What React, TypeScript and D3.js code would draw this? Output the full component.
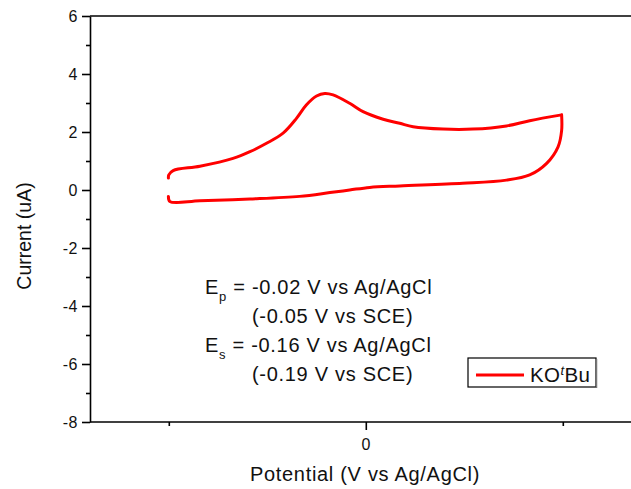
import React, { useEffect, useRef } from 'react';
import * as d3 from 'd3';

const width = 631,
  height = 489;

// cyclic voltammogram (V, uA)
// forward sweep, left to right
const fwdPotential = [-0.501, -0.5, -0.489, -0.421, -0.337, -0.294, -0.252, -0.21, -0.176, -0.151, -0.125, -0.104, -0.083, -0.041, -0.007, 0.044, 0.086, 0.12, 0.196, 0.272, 0.357, 0.416, 0.497];
const fwdCurrent = [0.41, 0.52, 0.67, 0.82, 1.09, 1.32, 1.61, 1.96, 2.47, 2.93, 3.24, 3.33, 3.28, 2.99, 2.7, 2.44, 2.3, 2.18, 2.1, 2.1, 2.21, 2.39, 2.59];
// reverse sweep, right to left
const revPotential = [0.497, 0.497, 0.488, 0.459, 0.416, 0.357, 0.246, 0.086, 0.01, -0.041, -0.091, -0.168, -0.294, -0.421, -0.497, -0.501];
const revCurrent = [2.59, 2.05, 1.49, 0.92, 0.52, 0.34, 0.23, 0.14, 0.09, 0.0, -0.09, -0.22, -0.31, -0.37, -0.4, -0.22];

const yMajor = [-8, -6, -4, -2, 0, 2, 4, 6];
const yMinor = [-7, -5, -3, -1, 1, 3, 5];
const xMajor = [0];
const xMinor = [-0.5, 0.5];

const seriesName = 'KO';
const font = '"Liberation Sans", Arial, sans-serif';

export default function App() {
  const ref = useRef<SVGSVGElement>(null);

  useEffect(() => {
    const svg = d3.select(ref.current);
    svg.selectAll('*').remove();

    const x = d3.scaleLinear().domain([-0.7, 0.7]).range([90, 641.6]);
    const y = d3.scaleLinear().domain([-8, 6]).range([422, 16]);

    // top frame line (runs past the right edge)
    svg.append('line').attr('x1', 90).attr('x2', width).attr('y1', 16).attr('y2', 16)
      .attr('stroke', 'black').attr('stroke-width', 1.6);

    const yAx = svg.append('g').attr('transform', 'translate(90,0)');
    yAx.call(d3.axisLeft(y).tickValues(yMajor).tickSize(8).tickSizeOuter(0).tickPadding(4)
      .tickFormat((d) => String(d)));
    yAx.append('g').call(d3.axisLeft(y).tickValues(yMinor).tickSize(4).tickFormat(() => ''))
      .select('.domain').remove();

    const xAx = svg.append('g').attr('transform', 'translate(0,422)');
    xAx.call(d3.axisBottom(x).tickValues(xMajor).tickSize(8).tickSizeOuter(0).tickPadding(9)
      .tickFormat((d) => String(d)));
    xAx.append('g').call(d3.axisBottom(x).tickValues(xMinor).tickSize(4).tickFormat(() => ''))
      .select('.domain').remove();
    xAx.select('.domain').attr('d', `M90,0H${width}`);

    svg.selectAll('.domain, .tick line').attr('stroke', 'black').attr('stroke-width', 1.6);
    svg.selectAll('.tick text').style('font-family', font).style('font-size', '16px')
      .style('letter-spacing', '0.5px').attr('fill', '#111');

    // axis titles
    svg.append('text').attr('x', 365).attr('y', 481).attr('text-anchor', 'middle')
      .style('font-family', font).style('font-size', '20px').style('letter-spacing', '0.7px')
      .attr('fill', '#111')
      .text('Potential (V vs Ag/AgCl)');
    svg.append('text').attr('transform', 'translate(31,236) rotate(-90)').attr('text-anchor', 'middle')
      .style('font-family', font).style('font-size', '19.5px').attr('fill', '#111')
      .text('Current (uA)');

    // the curve, drawn as two sweeps so the turning point stays sharp
    const line = d3.line<[number, number]>()
      .x((d) => x(d[0]))
      .y((d) => y(d[1]))
      .curve(d3.curveCatmullRom.alpha(0.5));
    const fwd = fwdPotential.map((p, i) => [p, fwdCurrent[i]] as [number, number]);
    const rev = revPotential.map((p, i) => [p, revCurrent[i]] as [number, number]);
    [fwd, rev].forEach((sweep) => {
      svg.append('path').datum(sweep).attr('d', line).attr('fill', 'none')
        .attr('stroke', '#FF0000').attr('stroke-width', 3)
        .attr('stroke-linejoin', 'miter').attr('stroke-linecap', 'round');
    });

    // annotations
    const notes = [
      { x: 205, y: 294, main: 'E', sub: 'p', rest: ' = -0.02 V vs Ag/AgCl' },
      { x: 252, y: 323, main: '(-0.05 V vs SCE)', sub: '', rest: '' },
      { x: 205, y: 352, main: 'E', sub: 's', rest: ' = -0.16 V vs Ag/AgCl' },
      { x: 252, y: 381, main: '(-0.19 V vs SCE)', sub: '', rest: '' },
    ];
    notes.forEach((n) => {
      const t = svg.append('text').attr('x', n.x).attr('y', n.y)
        .style('font-family', font).style('font-size', '20px').style('letter-spacing', '0.7px')
        .attr('fill', '#111');
      t.append('tspan').text(n.main);
      if (n.sub) {
        t.append('tspan').attr('dy', 7).style('font-size', '13px').text(n.sub);
        t.append('tspan').attr('dy', -7).text(n.rest);
      }
    });

    // legend
    const lg = svg.append('g');
    lg.append('rect').attr('x', 468).attr('y', 358).attr('width', 128).attr('height', 29)
      .attr('fill', 'white').attr('stroke', 'black').attr('stroke-width', 1.2);
    lg.append('line').attr('x1', 596.5).attr('x2', 596.5).attr('y1', 359).attr('y2', 388)
      .attr('stroke', '#777').attr('stroke-width', 1.5);
    lg.append('line').attr('x1', 476).attr('x2', 524).attr('y1', 375).attr('y2', 375)
      .attr('stroke', '#FF0000').attr('stroke-width', 3);
    const lt = lg.append('text').attr('x', 530).attr('y', 382)
      .style('font-family', font).style('font-size', '20.5px').style('letter-spacing', '0.4px')
      .attr('fill', '#111');
    lt.append('tspan').text(seriesName);
    lt.append('tspan').attr('dy', -7).style('font-size', '13px').style('font-style', 'italic').text('t');
    lt.append('tspan').attr('dy', 7).text('Bu');
  }, []);

  return (
    <svg ref={ref} width={width} height={height}
      style={{ position: 'absolute', left: 0, top: 0, background: 'white' }} />
  );
}
